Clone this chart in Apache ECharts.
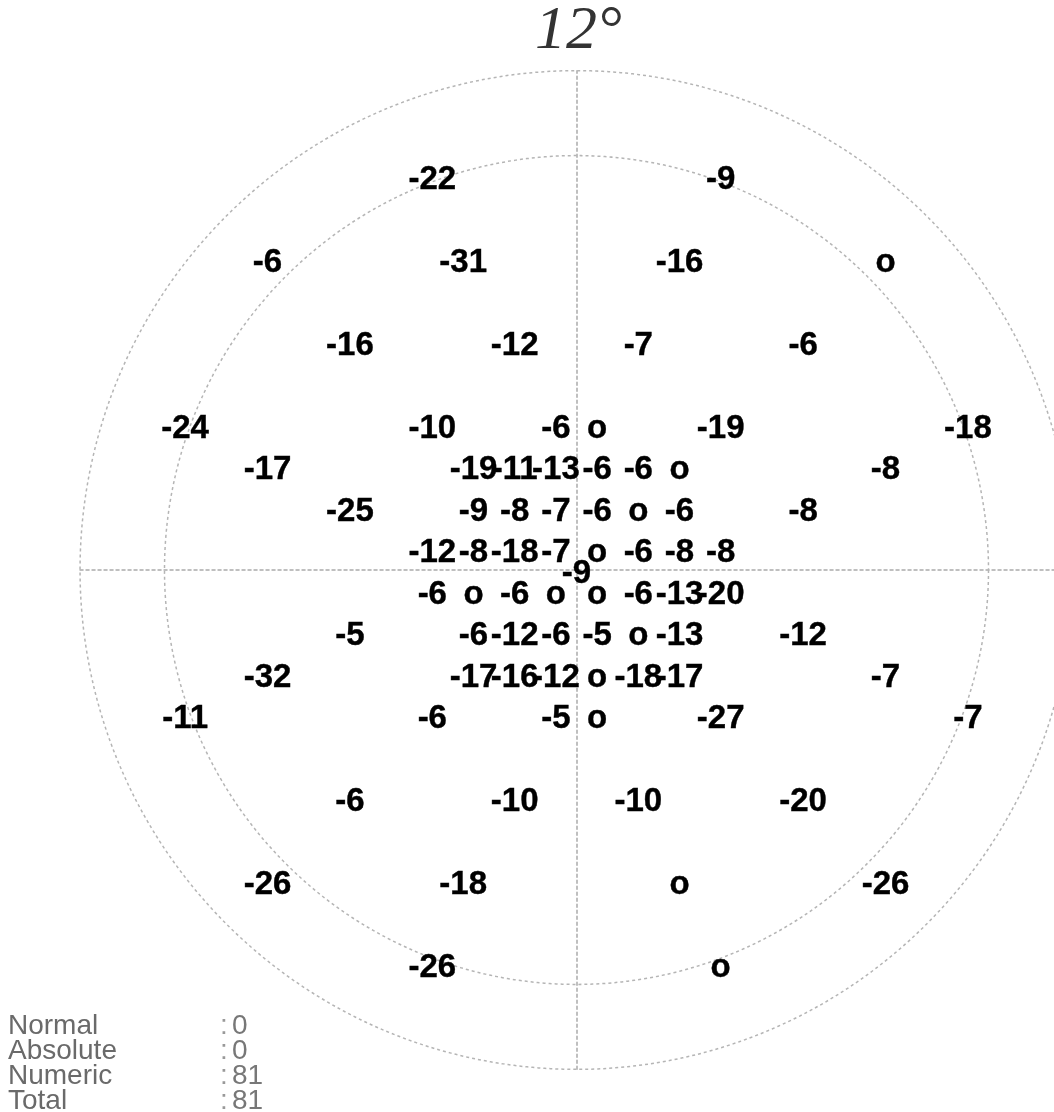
<!DOCTYPE html>
<html>
<head>
<meta charset="utf-8">
<script src="https://cdn.jsdelivr.net/npm/echarts@6/dist/echarts.min.js"></script>
<style>
html,body{margin:0;padding:0;background:#fff;overflow:hidden;}
#chart{width:1054px;height:1112px;}
</style>
</head>
<body>
<div id="chart"></div>
<script>
// Test point positions (x, y in field units) and their values (0 shown as "o")
const pointX = [
  -7, 7,
  -15, -5.5, 5, 15,
  -11, -3, 3, 11,
  -19, -7, -1, 1, 7, 19,
  -15, -5, -3, -1, 1, 3, 5, 15,
  -11, -5, -3, -1, 1, 3, 5, 11,
  -7, -5, -3, -1, 1, 3, 5, 7,
  0,
  -7, -5, -3, -1, 1, 3, 5, 7,
  -11, -5, -3, -1, 1, 3, 5, 11,
  -15, -5, -3, -1, 1, 3, 5, 15,
  -19, -7, -1, 1, 7, 19,
  -11, -3, 3, 11,
  -15, -5.5, 5, 15,
  -7, 7
];
const pointY = [
  19, 19,
  15, 15, 15, 15,
  11, 11, 11, 11,
  7, 7, 7, 7, 7, 7,
  5, 5, 5, 5, 5, 5, 5, 5,
  3, 3, 3, 3, 3, 3, 3, 3,
  1, 1, 1, 1, 1, 1, 1, 1,
  0,
  -1, -1, -1, -1, -1, -1, -1, -1,
  -3, -3, -3, -3, -3, -3, -3, -3,
  -5, -5, -5, -5, -5, -5, -5, -5,
  -7, -7, -7, -7, -7, -7,
  -11, -11, -11, -11,
  -15, -15, -15, -15,
  -19, -19
];
const pointValue = [
  -22, -9,
  -6, -31, -16, 0,
  -16, -12, -7, -6,
  -24, -10, -6, 0, -19, -18,
  -17, -19, -11, -13, -6, -6, 0, -8,
  -25, -9, -8, -7, -6, 0, -6, -8,
  -12, -8, -18, -7, 0, -6, -8, -8,
  -9,
  -6, 0, -6, 0, 0, -6, -13, -20,
  -5, -6, -12, -6, -5, 0, -13, -12,
  -32, -17, -16, -12, 0, -18, -17, -7,
  -11, -6, -5, 0, -27, -7,
  -6, -10, -10, -20,
  -26, -18, 0, -26,
  -26, 0
];
// Reference circles (radius in field units)
const ringRadius = [20, 24.1];
const fieldLeft = -24.1;    // outer circle edge
const fieldRight = 23.16;   // field is cut by the page's right edge
const fieldBottom = -24.1;
const fieldTop = 24.1;
const titleText = '12\u00B0';
const summaryLabels = ['Normal', 'Absolute', 'Numeric', 'Total'];
const summaryCounts = [0, 0, 81, 81];

const chart = echarts.init(document.getElementById('chart'));

const pts = pointX.map((x, i) => [x, pointY[i], pointValue[i]]);
const rings = ringRadius.map(r => [0, 0, r]);

const unitX = 20.6, unitY = 20.72;
const cx = 576.5, cy = 570;

const gridLeft = cx + fieldLeft * unitX;
const gridWidth = (fieldRight - fieldLeft) * unitX;
const gridTop = cy - fieldTop * unitY;
const gridHeight = (fieldTop - fieldBottom) * unitY;

const graphics = [{
  type: 'text', x: cx + 2, y: 32,
  style: {text: titleText, font: 'italic 62px "Liberation Serif", "Times New Roman", serif', fill: '#333', textAlign: 'center', textVerticalAlign: 'middle'}
}];
summaryLabels.forEach((lab, i) => {
  const y = 1026 + i * 25;
  const f = '28px "Liberation Sans", Arial, sans-serif';
  graphics.push({type:'text', x:8, y:y, style:{text:lab, font:f, fill:'#6a6a6a', textVerticalAlign:'middle'}});
  graphics.push({type:'text', x:220, y:y, style:{text:':', font:f, fill:'#999', textVerticalAlign:'middle'}});
  graphics.push({type:'text', x:232, y:y, style:{text:String(summaryCounts[i]), font:f, fill:'#777', textVerticalAlign:'middle'}});
});

chart.setOption({
  animation: false,
  backgroundColor: '#fff',
  grid: {left: gridLeft, top: gridTop, width: gridWidth, height: gridHeight},
  xAxis: {
    type: 'value', min: fieldLeft, max: fieldRight,
    axisLine: {show: true, onZero: true, lineStyle: {color: '#aaa', width: 1.5, type: [3, 3]}},
    axisTick: {show: false}, axisLabel: {show: false}, splitLine: {show: false}
  },
  yAxis: {
    type: 'value', min: fieldBottom, max: fieldTop,
    axisLine: {show: true, onZero: true, lineStyle: {color: '#aaa', width: 1.5, type: [3, 3]}},
    axisTick: {show: false}, axisLabel: {show: false}, splitLine: {show: false}
  },
  graphic: graphics,
  series: [
    {
      type: 'custom',
      data: rings,
      silent: true,
      clip: false,
      z: 1,
      renderItem: function (params, api) {
        const c = api.coord([api.value(0), api.value(1)]);
        const s = api.size([api.value(2), api.value(2)]);
        return {
          type: 'circle',
          x: c[0], y: c[1],
          scaleY: s[1] / s[0],
          shape: {cx: 0, cy: 0, r: s[0]},
          style: {fill: 'none', stroke: '#b5b5b5', lineWidth: 1.5, lineDash: [3, 3]}
        };
      }
    },
    {
      type: 'scatter',
      data: pts,
      symbolSize: 0,
      z: 3,
      itemStyle: {opacity: 1},
      label: {
        show: true,
        position: 'inside',
        offset: [0, 4],
        opacity: 1,
        formatter: p => (p.value[2] === 0 ? 'o' : String(p.value[2])),
        fontFamily: '"Liberation Sans", Arial, sans-serif',
        fontWeight: 'bold',
        fontSize: 33,
        color: '#000',
        textBorderColor: '#000',
        textBorderWidth: 0.4
      }
    }
  ]
});
</script>
</body>
</html>
